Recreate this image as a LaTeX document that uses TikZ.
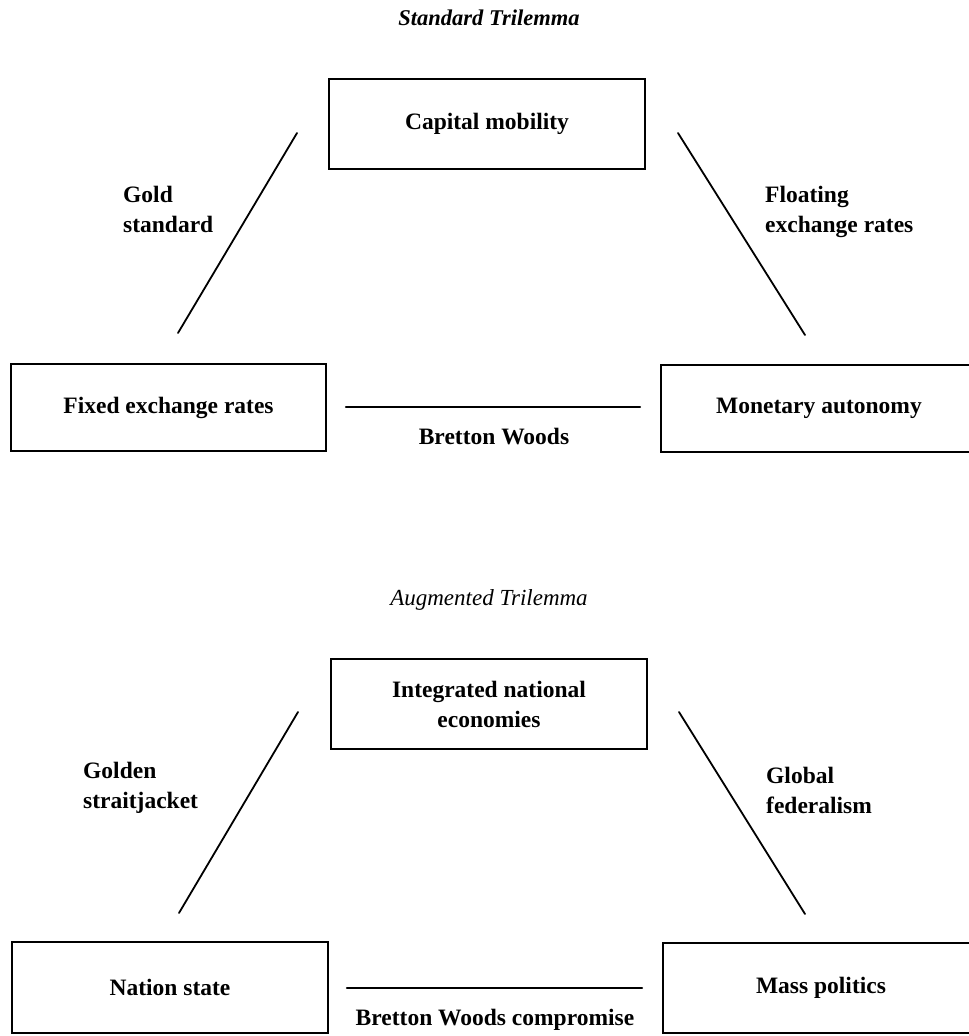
\documentclass[tikz,border=0pt]{standalone}
\usepackage{fontspec}
\setmainfont{Liberation Serif}
\begin{document}
\begin{tikzpicture}[x=1pt,y=-1pt,
  box/.style={draw=black,line width=2.4pt,minimum width=316pt,minimum height=89pt,inner sep=0pt,
    font=\fontsize{23.5}{30}\selectfont\bfseries,align=center},
  lbl/.style={anchor=west,inner sep=0pt,align=left,font=\fontsize{23.5}{30}\selectfont\bfseries},
  conn/.style={line width=1.8pt,line cap=round},
  ttl/.style={inner sep=0pt,font=\fontsize{23}{28}\selectfont\itshape}]
\useasboundingbox (0,0) rectangle (969,1036);
\clip (0,0) rectangle (969,1036);
\fill[white] (0,0) rectangle (969,1036);

% Standard Trilemma
\node[ttl,font=\fontsize{22.5}{28}\selectfont\bfseries\itshape] (t1) at (489,18) {Standard Trilemma};
\node[box,minimum height=90pt] (cap) at (487,124) {Capital mobility};
\node[box,minimum width=315pt,minimum height=87pt] (fix) at (168.5,407.5) {Fixed exchange rates};
\node[box,minimum height=87pt] (mon) at (819,408.5) {Monetary autonomy};

\coordinate (l1a) at (297,133);
\coordinate (l1b) at (178,333);
\coordinate (r1a) at (678,133);
\coordinate (r1b) at (805,335);
\coordinate (h1a) at (346,407);
\coordinate (h1b) at (640,407);
\draw[conn] (l1a) -- (l1b);
\draw[conn] (r1a) -- (r1b);
\draw[conn,line width=2.4pt] (h1a) -- (h1b);

\node[lbl] (gold) at (123,209) {Gold\\standard};
\node[lbl] (float) at (765,212) {Floating\\exchange rates};
\node[inner sep=0pt,font=\fontsize{23.5}{30}\selectfont\bfseries] (bw) at (494,437) {Bretton Woods};

% Augmented Trilemma
\node[ttl] (t2) at (489,600) {Augmented Trilemma};
\node[box,minimum height=90pt] (int) at (489,704) {Integrated national\\economies};
\node[box,minimum height=91pt] (nat) at (170,987.5) {Nation state};
\node[box,minimum height=90pt] (mass) at (821,988) {Mass politics};

\coordinate (l2a) at (298,712);
\coordinate (l2b) at (179,913);
\coordinate (r2a) at (679,712);
\coordinate (r2b) at (805,914);
\coordinate (h2a) at (347,988);
\coordinate (h2b) at (642,988);
\draw[conn] (l2a) -- (l2b);
\draw[conn] (r2a) -- (r2b);
\draw[conn,line width=2.4pt] (h2a) -- (h2b);

\node[lbl] (golden) at (83,788) {Golden\\straitjacket};
\node[lbl] (global) at (766,790) {Global\\federalism};
\node[inner sep=0pt,font=\fontsize{23.5}{30}\selectfont\bfseries] (bwc) at (495,1020) {Bretton Woods compromise};
\end{tikzpicture}
\end{document}
